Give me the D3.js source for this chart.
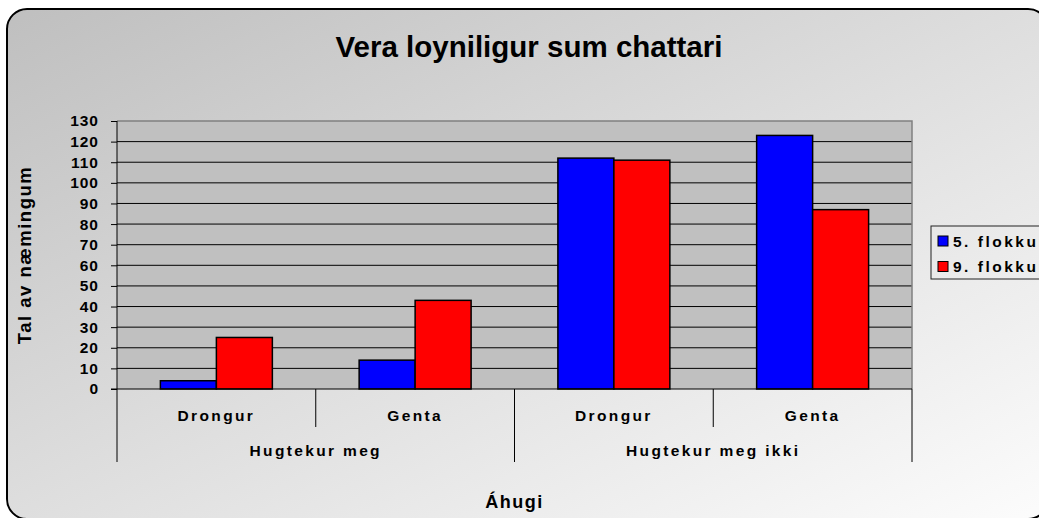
<!DOCTYPE html>
<html lang="fo">

<head>
    <meta charset="utf-8">
    <script type="text/javascript" src="https://d3js.org/d3.v7.min.js"></script>
    <style>
        body { margin: 0; background: #fff; }
        text { font-family: "Liberation Sans", Arial, sans-serif; font-weight: bold; fill: #000; }
    </style>
</head>

<body>
    <script type="text/javascript">

        // data
        let outerGroups = ["Hugtekur meg", "Hugtekur meg ikki"];
        let innerLabels = ["Drongur", "Genta", "Drongur", "Genta"];
        let innerGroup = [0, 0, 1, 1];
        let seriesNames = ["5. flokkur", "9. flokkur"];
        let seriesColors = ["#0000ff", "#ff0000"];
        let flokkur5 = [4, 14, 112, 123];
        let flokkur9 = [25, 43, 111, 87];
        let yTicks = [0, 10, 20, 30, 40, 50, 60, 70, 80, 90, 100, 110, 120, 130];

        let w = 1039;
        let h = 518;
        let plot = { left: 117, right: 912, top: 121, bottom: 389 };

        let svg = d3.select("body").append("svg")
            .attr("width", w)
            .attr("height", h);

        // background gradient of the chart area
        let grad = svg.append("defs").append("linearGradient")
            .attr("id", "bg")
            .attr("x1", 0).attr("y1", 0).attr("x2", 1).attr("y2", 1);
        grad.append("stop").attr("offset", "0%").attr("stop-color", "#bfbfbf");
        grad.append("stop").attr("offset", "50%").attr("stop-color", "#dedede");
        grad.append("stop").attr("offset", "100%").attr("stop-color", "#fcfcfc");

        svg.append("rect")
            .attr("x", 7).attr("y", 9)
            .attr("width", 1041).attr("height", 510)
            .attr("rx", 20).attr("ry", 20)
            .attr("fill", "url(#bg)")
            .attr("stroke", "#000")
            .attr("stroke-width", 2);

        let cats = d3.range(innerLabels.length);

        let x0 = d3.scaleBand()
            .domain(cats)
            .range([plot.left, plot.right])
            .padding(0);

        let x1 = d3.scaleBand()
            .domain([0, 1])
            .range([0, x0.bandwidth()])
            .paddingInner(0)
            .paddingOuter(0.775);

        let y = d3.scaleLinear()
            .domain([0, 130])
            .range([plot.bottom, plot.top]);

        // plot area
        svg.append("rect")
            .attr("x", plot.left).attr("y", plot.top)
            .attr("width", plot.right - plot.left)
            .attr("height", plot.bottom - plot.top)
            .attr("fill", "#c0c0c0");

        // gridlines
        svg.append("g").selectAll("line")
            .data(yTicks.filter(function (d) { return d > 0 && d < 130; }))
            .join("line")
            .attr("x1", plot.left).attr("x2", plot.right)
            .attr("y1", function (d) { return y(d); })
            .attr("y2", function (d) { return y(d); })
            .attr("stroke", "#000")
            .attr("stroke-width", 1);

        // top and right border of the plot
        svg.append("path")
            .attr("d", "M" + plot.left + "," + y(130) + "H" + plot.right + "V" + plot.bottom)
            .attr("fill", "none")
            .attr("stroke", "#808080")
            .attr("stroke-width", 1.5);

        // bars
        let series = [flokkur5, flokkur9];
        series.forEach(function (vals, s) {
            svg.append("g").selectAll("rect")
                .data(vals)
                .join("rect")
                .attr("x", function (d, i) { return x0(i) + x1(s); })
                .attr("y", function (d) { return y(d); })
                .attr("width", x1.bandwidth())
                .attr("height", function (d) { return y(0) - y(d); })
                .attr("fill", seriesColors[s])
                .attr("stroke", "#000")
                .attr("stroke-width", 1.5);
        });

        // y axis
        let yAxis = svg.append("g")
            .attr("transform", "translate(" + plot.left + ",0)")
            .call(d3.axisLeft(y).tickValues(yTicks).tickSize(6).tickPadding(12));
        yAxis.select(".domain").remove();
        yAxis.selectAll(".tick line").attr("stroke", "#000");
        yAxis.selectAll(".tick text")
            .attr("font-size", "15.5px")
            .attr("letter-spacing", "1px")
            .attr("font-family", null)
            .style("fill", "#000");

        let axisG = svg.append("g").attr("stroke", "#000").attr("stroke-width", 1);

        axisG.append("line")
            .attr("x1", plot.left).attr("x2", plot.left)
            .attr("y1", plot.top).attr("y2", 462);
        axisG.append("line")
            .attr("x1", plot.left - 6).attr("x2", plot.right)
            .attr("y1", plot.bottom).attr("y2", plot.bottom);

        // separators of inner categories
        axisG.selectAll(".inner")
            .data(cats.filter(function (i) { return i > 0 && innerGroup[i] == innerGroup[i - 1]; }))
            .join("line")
            .attr("x1", function (i) { return x0(i); })
            .attr("x2", function (i) { return x0(i); })
            .attr("y1", plot.bottom).attr("y2", 427);

        // separators of outer categories
        let outerEdges = [];
        outerGroups.forEach(function (g, k) {
            let members = cats.filter(function (i) { return innerGroup[i] == k; });
            outerEdges.push({ start: x0(members[0]), end: x0(members[members.length - 1]) + x0.bandwidth(), label: g });
        });
        axisG.selectAll(".outer")
            .data(outerEdges)
            .join("line")
            .attr("x1", function (d) { return d.end; })
            .attr("x2", function (d) { return d.end; })
            .attr("y1", plot.bottom).attr("y2", 462);

        svg.append("g").selectAll("text")
            .data(cats)
            .join("text")
            .attr("x", function (i) { return x0(i) + x0.bandwidth() / 2; })
            .attr("y", 421)
            .attr("text-anchor", "middle")
            .attr("font-size", "15.5px")
            .attr("letter-spacing", "2.35px")
            .text(function (i) { return innerLabels[i]; });

        svg.append("g").selectAll("text")
            .data(outerEdges)
            .join("text")
            .attr("x", function (d) { return (d.start + d.end) / 2; })
            .attr("y", 456)
            .attr("text-anchor", "middle")
            .attr("font-size", "15.5px")
            .attr("letter-spacing", "2.35px")
            .text(function (d) { return d.label; });

        // titles
        svg.append("text")
            .attr("x", 529)
            .attr("y", 57)
            .attr("text-anchor", "middle")
            .attr("font-size", "29.5px")
            .text("Vera loyniligur sum chattari");

        svg.append("text")
            .attr("x", (plot.left + plot.right) / 2)
            .attr("y", 508)
            .attr("text-anchor", "middle")
            .attr("font-size", "18px")
            .attr("letter-spacing", "1.5px")
            .text("Áhugi");

        svg.append("text")
            .attr("transform", "translate(31," + ((plot.top + plot.bottom) / 2) + ") rotate(-90)")
            .attr("text-anchor", "middle")
            .attr("font-size", "18.5px")
            .attr("letter-spacing", "1.5px")
            .text("Tal av næmingum");

        // legend (cut by the right edge, as in the reference)
        let legend = svg.append("g").attr("transform", "translate(931,226)");
        legend.append("rect")
            .attr("x", 0).attr("y", 0)
            .attr("width", 140).attr("height", 53)
            .attr("fill", "none")
            .attr("stroke", "#222")
            .attr("stroke-width", 1);

        let items = legend.selectAll(".item")
            .data(seriesNames)
            .join("g")
            .attr("transform", function (d, i) { return "translate(7," + (10 + i * 25.5) + ")"; });
        items.append("rect")
            .attr("width", 10).attr("height", 10)
            .attr("fill", function (d, i) { return seriesColors[i]; })
            .attr("stroke", "#000")
            .attr("stroke-width", 1);
        items.append("text")
            .attr("x", 15)
            .attr("y", 10.5)
            .attr("font-size", "15.5px")
            .attr("letter-spacing", "2.5px")
            .text(function (d) { return d; });

    </script>
</body>

</html>
